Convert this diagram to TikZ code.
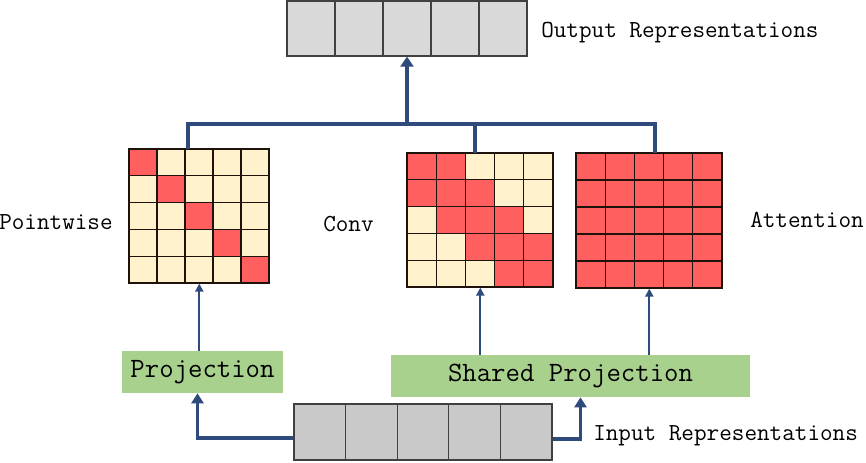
\documentclass[tikz,border=0pt]{standalone}
\usetikzlibrary{arrows.meta,calc,positioning}
\definecolor{navy}{HTML}{2F4B7C}
\definecolor{cream}{HTML}{FFF2CC}
\definecolor{hot}{HTML}{FF5F5F}
\definecolor{leaf}{HTML}{A9D18E}
\definecolor{outgray}{HTML}{D9D9D9}
\definecolor{ingray}{HTML}{C9C9C9}
\tikzset{
  lab/.style={font=\fontsize{17.4}{20}\selectfont\ttfamily, inner sep=0pt, anchor=west},
  projbox/.style={fill=leaf, minimum height=1.05cm, inner sep=0pt, font=\fontsize{19.9}{22}\selectfont\ttfamily},
  outcell/.style={draw=black!75, fill=outgray, line width=0.8pt, minimum width=1.2cm, minimum height=1.375cm, inner sep=0pt},
  incell/.style={draw=black!75, fill=ingray, line width=0.8pt, minimum width=1.29cm, minimum height=1.4cm, inner sep=0pt},
  gridbox/.style={anchor=north west, inner sep=0pt},
  cell/.style={draw=black!85!brown, line width=0.8pt},
  bus/.style={navy, line width=2.2pt},
  bigarrow/.style={navy, line width=3.5pt, -{Triangle[width=0.32cm,length=0.25cm]}},
  inarrow/.style={navy, line width=2.4pt, -{Triangle[width=0.3cm,length=0.25cm]}},
  thinarrow/.style={navy, line width=1.5pt, -{Triangle[width=0.2cm,length=0.2cm]}},
}
\begin{document}
\begin{tikzpicture}[x=0.025cm,y=-0.025cm]
\useasboundingbox (0,0) rectangle (866,462);

% ---------- Output ----------
\foreach \i in {1,...,5}
  \node[outcell] (o\i) at (287+48*\i-24,28.5) {};
\node[lab] (outlab) at (541,33) {Output Representations};

% ---------- Pointwise ----------
\node[gridbox, minimum width=3.5cm, minimum height=3.35cm] (pw) at (129,149) {};
\foreach \r in {0,...,4}
  \foreach \c in {0,...,4} {
    \ifnum\r=\c \def\col{hot}\else\def\col{cream}\fi
    \draw[cell, fill=\col] ($(pw.north west)+(\c*28,\r*26.8)$) rectangle +(28,26.8);
  }
\node[lab] (pwlab) at (-1,222) {Pointwise};

% ---------- Conv ----------
\node[gridbox, minimum width=3.65cm, minimum height=3.35cm] (conv) at (407,153) {};
\foreach \r in {0,...,4}
  \foreach \c in {0,...,4} {
    \pgfmathtruncatemacro\d{abs(\r-\c)}
    \ifnum\d<2 \def\col{hot}\else\def\col{cream}\fi
    \draw[cell, fill=\col] ($(conv.north west)+(\c*29.2,\r*26.8)$) rectangle +(29.2,26.8);
  }
\node[lab] (convlab) at (323,224) {Conv};

% ---------- Attention ----------
\node[gridbox, minimum width=3.65cm, minimum height=3.375cm] (att) at (576,153) {};
\foreach \r in {0,...,4}
  \foreach \c in {0,...,4}
    \draw[cell, fill=hot] ($(att.north west)+(\c*29.2,\r*27)$) rectangle +(29.2,27);
\node[lab] (attlab) at (750,220) {Attention};

% ---------- Bus to output ----------
\coordinate (busL) at (188,124);
\coordinate (busC) at (475,124);
\coordinate (busR) at (655,124);
\draw[bus] (busL |- pw.north) -- (busL) -- (busR) -- (busR |- att.north);
\draw[bus] (busC) -- (busC |- conv.north);
\draw[bigarrow] (o3.south |- busL) -- (o3.south);

% ---------- Projections ----------
\node[projbox, minimum width=4.025cm] (proj) at (202.5,372) {\raisebox{-3pt}{Projection}};
\node[projbox, minimum width=8.975cm] (sproj) at (570.5,376) {\raisebox{-3pt}{Shared Projection}};
\draw[thinarrow] (pw.south |- proj.north) -- (pw.south);
\draw[thinarrow] (conv.south |- sproj.north) -- (conv.south);
\draw[thinarrow] (att.south |- sproj.north) -- (att.south);

% ---------- Input ----------
\foreach \i in {1,...,5}
  \node[incell] (i\i) at (294+51.6*\i-25.8,432) {};
\node[lab] (inlab) at (593,436) {Input Representations};
\coordinate (pin) at ($(proj.south)+(-5,0)$);
\coordinate (spin) at ($(sproj.south)+(10,0)$);
\draw[inarrow] ($(i1.west)+(0,6)$) -| (pin);
\draw[inarrow] ($(i5.east)+(0,7)$) -| (spin);

\end{tikzpicture}
\end{document}
